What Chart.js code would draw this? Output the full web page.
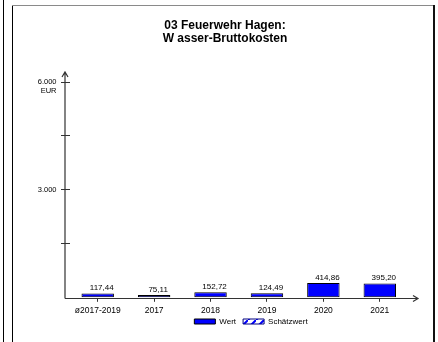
<!DOCTYPE html>
<html>
<head>
<meta charset="utf-8">
<script src="https://cdn.jsdelivr.net/npm/chart.js@4"></script>
<style>
  html, body { margin: 0; padding: 0; background: #fff; }
</style>
</head>
<body>
<canvas id="chart" width="438" height="342"></canvas>
<script>
const categories = ['ø2017-2019', '2017', '2018', '2019', '2020', '2021'];
const werte = [117.44, 75.11, 152.72, 124.49, 414.86, 395.20];
const yLabelled = [3000, 6000];
const titleLines = ['03 Feuerwehr Hagen:', 'W asser-Bruttokosten'];
const unitLabel = 'EUR';
const legendNames = ['Wert', 'Schätzwert'];

const FONT = "'Liberation Sans', Arial, sans-serif";

const fmtThousands = v => String(v).replace(/\B(?=(\d{3})+(?!\d))/g, '.');
const fmtValue = v => v.toFixed(2).replace('.', ',');

// hatched white/blue box for the "Schätzwert" legend entry
function estimatePattern() {
    const c = document.createElement('canvas');
    c.width = 8; c.height = 8;
    const g = c.getContext('2d');
    g.fillStyle = '#fff';
    g.fillRect(0, 0, 8, 8);
    g.strokeStyle = '#0000ff';
    g.lineWidth = 2;
    g.beginPath();
    g.moveTo(0, 8); g.lineTo(8, 0);
    g.stroke();
    return g.createPattern(c, 'repeat');
}

const framePlugin = {
    id: 'frame',
    beforeDraw(chart) {
        const ctx = chart.ctx;
        ctx.save();
        ctx.fillStyle = '#fff';
        ctx.fillRect(0, 0, chart.width, chart.height);
        ctx.lineWidth = 1;
        ctx.strokeStyle = '#000';
        ctx.beginPath();
        ctx.moveTo(3.5, 0); ctx.lineTo(3.5, chart.height);
        ctx.moveTo(12.5, 5); ctx.lineTo(12.5, chart.height);
        ctx.stroke();
        ctx.strokeStyle = '#8a8a8a';
        ctx.beginPath();
        ctx.moveTo(12, 5.5); ctx.lineTo(434, 5.5);
        ctx.stroke();
        ctx.strokeStyle = '#111';
        ctx.lineWidth = 2;
        ctx.beginPath();
        ctx.moveTo(434, 5); ctx.lineTo(434, chart.height);
        ctx.stroke();
        ctx.restore();
    },
    afterLayout(chart) {
        // title and legend sit right of centre in the original, legend tight under the labels
        chart.titleBlock.left += 21;
        chart.titleBlock.right += 21;
        chart.legend.left += 47;
        chart.legend.right += 47;
        chart.legend.top -= 5.5;
        chart.legend.bottom -= 5.5;
    },
    afterDraw(chart) {
        const ctx = chart.ctx;
        const area = chart.chartArea;
        const ys = chart.scales.y;
        const ax = area.left - 4.5;
        const ay = Math.round(ys.getPixelForValue(0)) + 0.5;
        const topY = ys.getPixelForValue(ys.max) - 10;
        const rightX = area.right + 10;
        ctx.save();
        ctx.strokeStyle = '#333';
        ctx.lineWidth = 1.2;
        ctx.beginPath();
        ctx.moveTo(ax, ay); ctx.lineTo(ax, topY);
        ctx.moveTo(ax - 3, topY + 5); ctx.lineTo(ax, topY); ctx.lineTo(ax + 3, topY + 5);
        ctx.moveTo(ax, ay); ctx.lineTo(rightX, ay);
        ctx.moveTo(rightX - 5, ay - 3); ctx.lineTo(rightX, ay); ctx.lineTo(rightX - 5, ay + 3);
        ctx.stroke();

        // unit under the top tick label
        ctx.fillStyle = '#000';
        ctx.font = '7.5px ' + FONT;
        ctx.textAlign = 'right';
        ctx.textBaseline = 'middle';
        ctx.fillText(unitLabel, area.left - 13, ys.getPixelForValue(ys.max) + 9);

        // values above bars
        ctx.font = '8px ' + FONT;
        ctx.textAlign = 'center';
        ctx.textBaseline = 'bottom';
        chart.getDatasetMeta(0).data.forEach((bar, i) => {
            ctx.fillText(fmtValue(werte[i]), bar.x + 4, bar.y - 1.5);
        });
        ctx.restore();
    }
};

new Chart(document.getElementById('chart'), {
    type: 'bar',
    data: {
        labels: categories,
        datasets: [{
            label: legendNames[0],
            data: werte,
            backgroundColor: '#0000ff',
            borderColor: '#000',
            borderWidth: 1,
            borderSkipped: false,
            barPercentage: 0.575,
            categoryPercentage: 1
        }]
    },
    options: {
        responsive: false,
        animation: false,
        devicePixelRatio: 1,
        layout: { padding: { left: 0, right: 30, top: 0, bottom: 1 } },
        scales: {
            x: {
                afterFit: s => { s.height -= 4; },
                border: { display: false },
                grid: {
                    offset: false,
                    drawOnChartArea: false,
                    drawTicks: true,
                    tickLength: 4,
                    color: '#333'
                },
                ticks: {
                    color: '#000',
                    padding: 4,
                    maxRotation: 0,
                    autoSkip: false,
                    font: { family: FONT, size: 8.5 }
                }
            },
            y: {
                min: 0,
                max: 6000,
                afterFit: s => { s.width = 69.5; },
                border: { display: false },
                grid: {
                    drawOnChartArea: false,
                    drawTicks: true,
                    tickLength: 8.5,
                    color: ctx => ctx.tick && ctx.tick.value === 0 ? 'rgba(0,0,0,0)' : '#333'
                },
                ticks: {
                    stepSize: 1500,
                    color: '#000',
                    padding: 4.5,
                    font: { family: FONT, size: 7.5 },
                    callback: v => yLabelled.includes(v) ? fmtThousands(v) : ''
                }
            }
        },
        plugins: {
            title: {
                display: true,
                text: titleLines,
                color: '#000',
                font: { family: FONT, size: 12, weight: 'bold', lineHeight: 1.1 },
                padding: { top: 19, bottom: 36.6 }
            },
            legend: {
                position: 'bottom',
                labels: {
                    color: '#000',
                    boxWidth: 21,
                    boxHeight: 5,
                    padding: 7,
                    font: { family: FONT, size: 8 },
                    generateLabels: () => [
                        { text: legendNames[0], fillStyle: '#0000ff', strokeStyle: '#000', lineWidth: 1 },
                        { text: legendNames[1], fillStyle: estimatePattern(), strokeStyle: '#000080', lineWidth: 1 }
                    ]
                }
            },
            tooltip: { enabled: false }
        }
    },
    plugins: [framePlugin]
});
</script>
</body>
</html>
